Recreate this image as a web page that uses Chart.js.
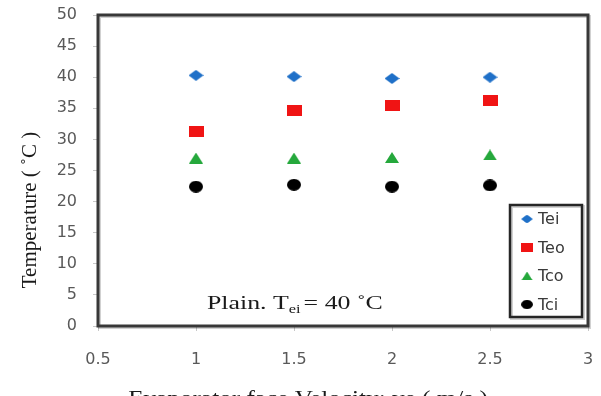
<!DOCTYPE html>
<html>
<head>
<meta charset="utf-8">
<script src="https://cdn.jsdelivr.net/npm/chart.js@4/dist/chart.umd.min.js"></script>
<style>
  html, body { margin: 0; padding: 0; background: #fff; }
  canvas { display: block; }
</style>
</head>
<body>
<canvas id="tempChart" width="601" height="396"></canvas>
<script>
// face velocity (m/s) and measured temperatures (°C)
const velocity = [1, 1.5, 2, 2.5];
const tei = [40.3, 40.1, 39.8, 40.0];
const teo = [31.3, 34.6, 35.5, 36.2];
const tco = [27.0, 27.0, 27.1, 27.5];
const tci = [22.4, 22.7, 22.4, 22.6];
const seriesNames = ['Tei', 'Teo', 'Tco', 'Tci'];
const xTicks = [0.5, 1, 1.5, 2, 2.5, 3];
const yTicks = [0, 5, 10, 15, 20, 25, 30, 35, 40, 45, 50];

const toPoints = ys => velocity.map((v, i) => ({x: v, y: ys[i]}));

// markers are a bit wider than tall, so build them as small canvases
function makeMarker(shape, w, h, color) {
  const c = document.createElement('canvas');
  c.width = w;
  c.height = h;
  const g = c.getContext('2d');
  g.fillStyle = color;
  g.beginPath();
  if (shape === 'diamond') {
    g.moveTo(w / 2, 0); g.lineTo(w, h / 2); g.lineTo(w / 2, h); g.lineTo(0, h / 2);
  } else if (shape === 'square') {
    g.rect(0, 0, w, h);
  } else if (shape === 'triangle') {
    g.moveTo(w / 2, 0); g.lineTo(w, h); g.lineTo(0, h);
  } else {
    g.ellipse(w / 2, h / 2, w / 2, h / 2, 0, 0, Math.PI * 2);
  }
  g.closePath();
  g.fill();
  return c;
}

const markers = [
  makeMarker('diamond', 15, 11, '#1f70c8'),
  makeMarker('square', 15, 11, '#f01414'),
  makeMarker('triangle', 14, 11, '#25a83c'),
  makeMarker('circle', 14, 12, '#000000')
];

const datasets = [tei, teo, tco, tci].map((ys, i) => ({
  label: seriesNames[i],
  data: toPoints(ys),
  pointStyle: markers[i],
  pointRadius: 8,
  showLine: false
}));

// text drawn a little wider than the font's natural width
function wideText(ctx, text, x, y, stretch) {
  ctx.save();
  ctx.translate(x, y);
  ctx.scale(stretch, 1);
  ctx.fillText(text, 0, 0);
  ctx.restore();
}

// heavy frame around the plot area
const frame = {
  id: 'frame',
  afterDatasetsDraw(chart) {
    const {ctx, chartArea: a} = chart;
    ctx.save();
    ctx.strokeStyle = 'rgba(0,0,0,0.18)';
    ctx.lineWidth = 3;
    ctx.strokeRect(a.left + 1.5, a.top + 1.5, a.right - a.left, a.bottom - a.top);
    ctx.strokeStyle = '#383838';
    ctx.lineWidth = 3;
    ctx.strokeRect(a.left, a.top, a.right - a.left, a.bottom - a.top);
    ctx.restore();
  }
};

// boxed legend in the lower right corner of the plot
const boxLegend = {
  id: 'boxLegend',
  afterDraw(chart) {
    const {ctx, chartArea: a} = chart;
    const x0 = a.right - 78, y0 = a.bottom - 121, w = 72, h = 112;
    ctx.save();
    ctx.fillStyle = '#fff';
    ctx.fillRect(x0, y0, w, h);
    ctx.strokeStyle = 'rgba(0,0,0,0.18)';
    ctx.lineWidth = 3;
    ctx.strokeRect(x0 + 1.5, y0 + 1.5, w, h);
    ctx.strokeStyle = '#262626';
    ctx.lineWidth = 2.5;
    ctx.strokeRect(x0, y0, w, h);
    ctx.font = '16px "DejaVu Sans"';
    ctx.textBaseline = 'middle';
    chart.data.datasets.forEach((ds, i) => {
      const cy = y0 + 14 + i * 28.5;
      const m = ds.pointStyle;
      const mw = m.width * 0.8, mh = m.height * 0.8;
      ctx.drawImage(m, x0 + 17 - mw / 2, cy - mh / 2, mw, mh);
      ctx.fillStyle = '#3a3a3a';
      ctx.fillText(ds.label, x0 + 28, cy + 1);
    });
    ctx.restore();
  }
};

// axis titles and the test-condition note
const captions = {
  id: 'captions',
  afterDraw(chart) {
    const {ctx, chartArea: a} = chart;
    ctx.save();
    ctx.fillStyle = '#1a1a1a';
    ctx.textBaseline = 'alphabetic';

    // note: Plain. T_ei = 40 °C
    const big = '19px "Liberation Serif"';
    const sub = '12px "Liberation Serif"';
    const s = 1.36;
    let x = a.left + 109, y = a.bottom - 17;
    ctx.textAlign = 'left';
    ctx.font = big;
    wideText(ctx, 'Plain. T', x, y, s);
    x += ctx.measureText('Plain. T').width * s;
    ctx.font = sub;
    wideText(ctx, 'ei', x, y + 4, s);
    x += ctx.measureText('ei').width * s + 3;
    ctx.font = big;
    wideText(ctx, '= 40 ˚C', x, y, s);

    // x axis title, partly below the bottom edge
    ctx.font = '21px "Liberation Serif"';
    ctx.textAlign = 'center';
    wideText(ctx, 'Evaporator face Velocity; ve ( m/s )', 308, 405, 1.2);

    // y axis title
    ctx.save();
    ctx.translate(36, 210);
    ctx.rotate(-Math.PI / 2);
    ctx.font = '21px "Liberation Serif"';
    ctx.textAlign = 'center';
    wideText(ctx, 'Temperature ( ˚C )', 0, 0, 1.0);
    ctx.restore();

    ctx.restore();
  }
};

const tickFont = {family: '"DejaVu Sans"', size: 16};

new Chart(document.getElementById('tempChart'), {
  type: 'scatter',
  data: {datasets},
  options: {
    responsive: false,
    animation: false,
    devicePixelRatio: 1,
    layout: {padding: {top: 15, right: 13, left: 0, bottom: 0}},
    plugins: {
      legend: {display: false},
      tooltip: {enabled: false}
    },
    scales: {
      x: {
        type: 'linear',
        min: xTicks[0],
        max: xTicks[xTicks.length - 1],
        afterBuildTicks: scale => { scale.ticks = xTicks.map(v => ({value: v})); },
        afterFit: scale => {
          scale.height = 70;
          scale.paddingLeft = 0;
          scale.paddingRight = 0;
        },
        ticks: {
          font: tickFont,
          color: '#595959',
          padding: 19,
          callback: v => String(v)
        },
        grid: {drawOnChartArea: false, color: '#c8c8c8', tickLength: 5},
        border: {display: false}
      },
      y: {
        type: 'linear',
        min: yTicks[0],
        max: yTicks[yTicks.length - 1],
        afterBuildTicks: scale => { scale.ticks = yTicks.map(v => ({value: v})); },
        afterFit: scale => {
          scale.width = 98;
          scale.paddingTop = 0;
          scale.paddingBottom = 0;
        },
        ticks: {
          font: tickFont,
          color: '#595959',
          padding: 16,
          callback: v => String(v)
        },
        grid: {drawOnChartArea: false, color: '#c8c8c8', tickLength: 5},
        border: {display: false}
      }
    }
  },
  plugins: [frame, boxLegend, captions]
});
</script>
</body>
</html>
